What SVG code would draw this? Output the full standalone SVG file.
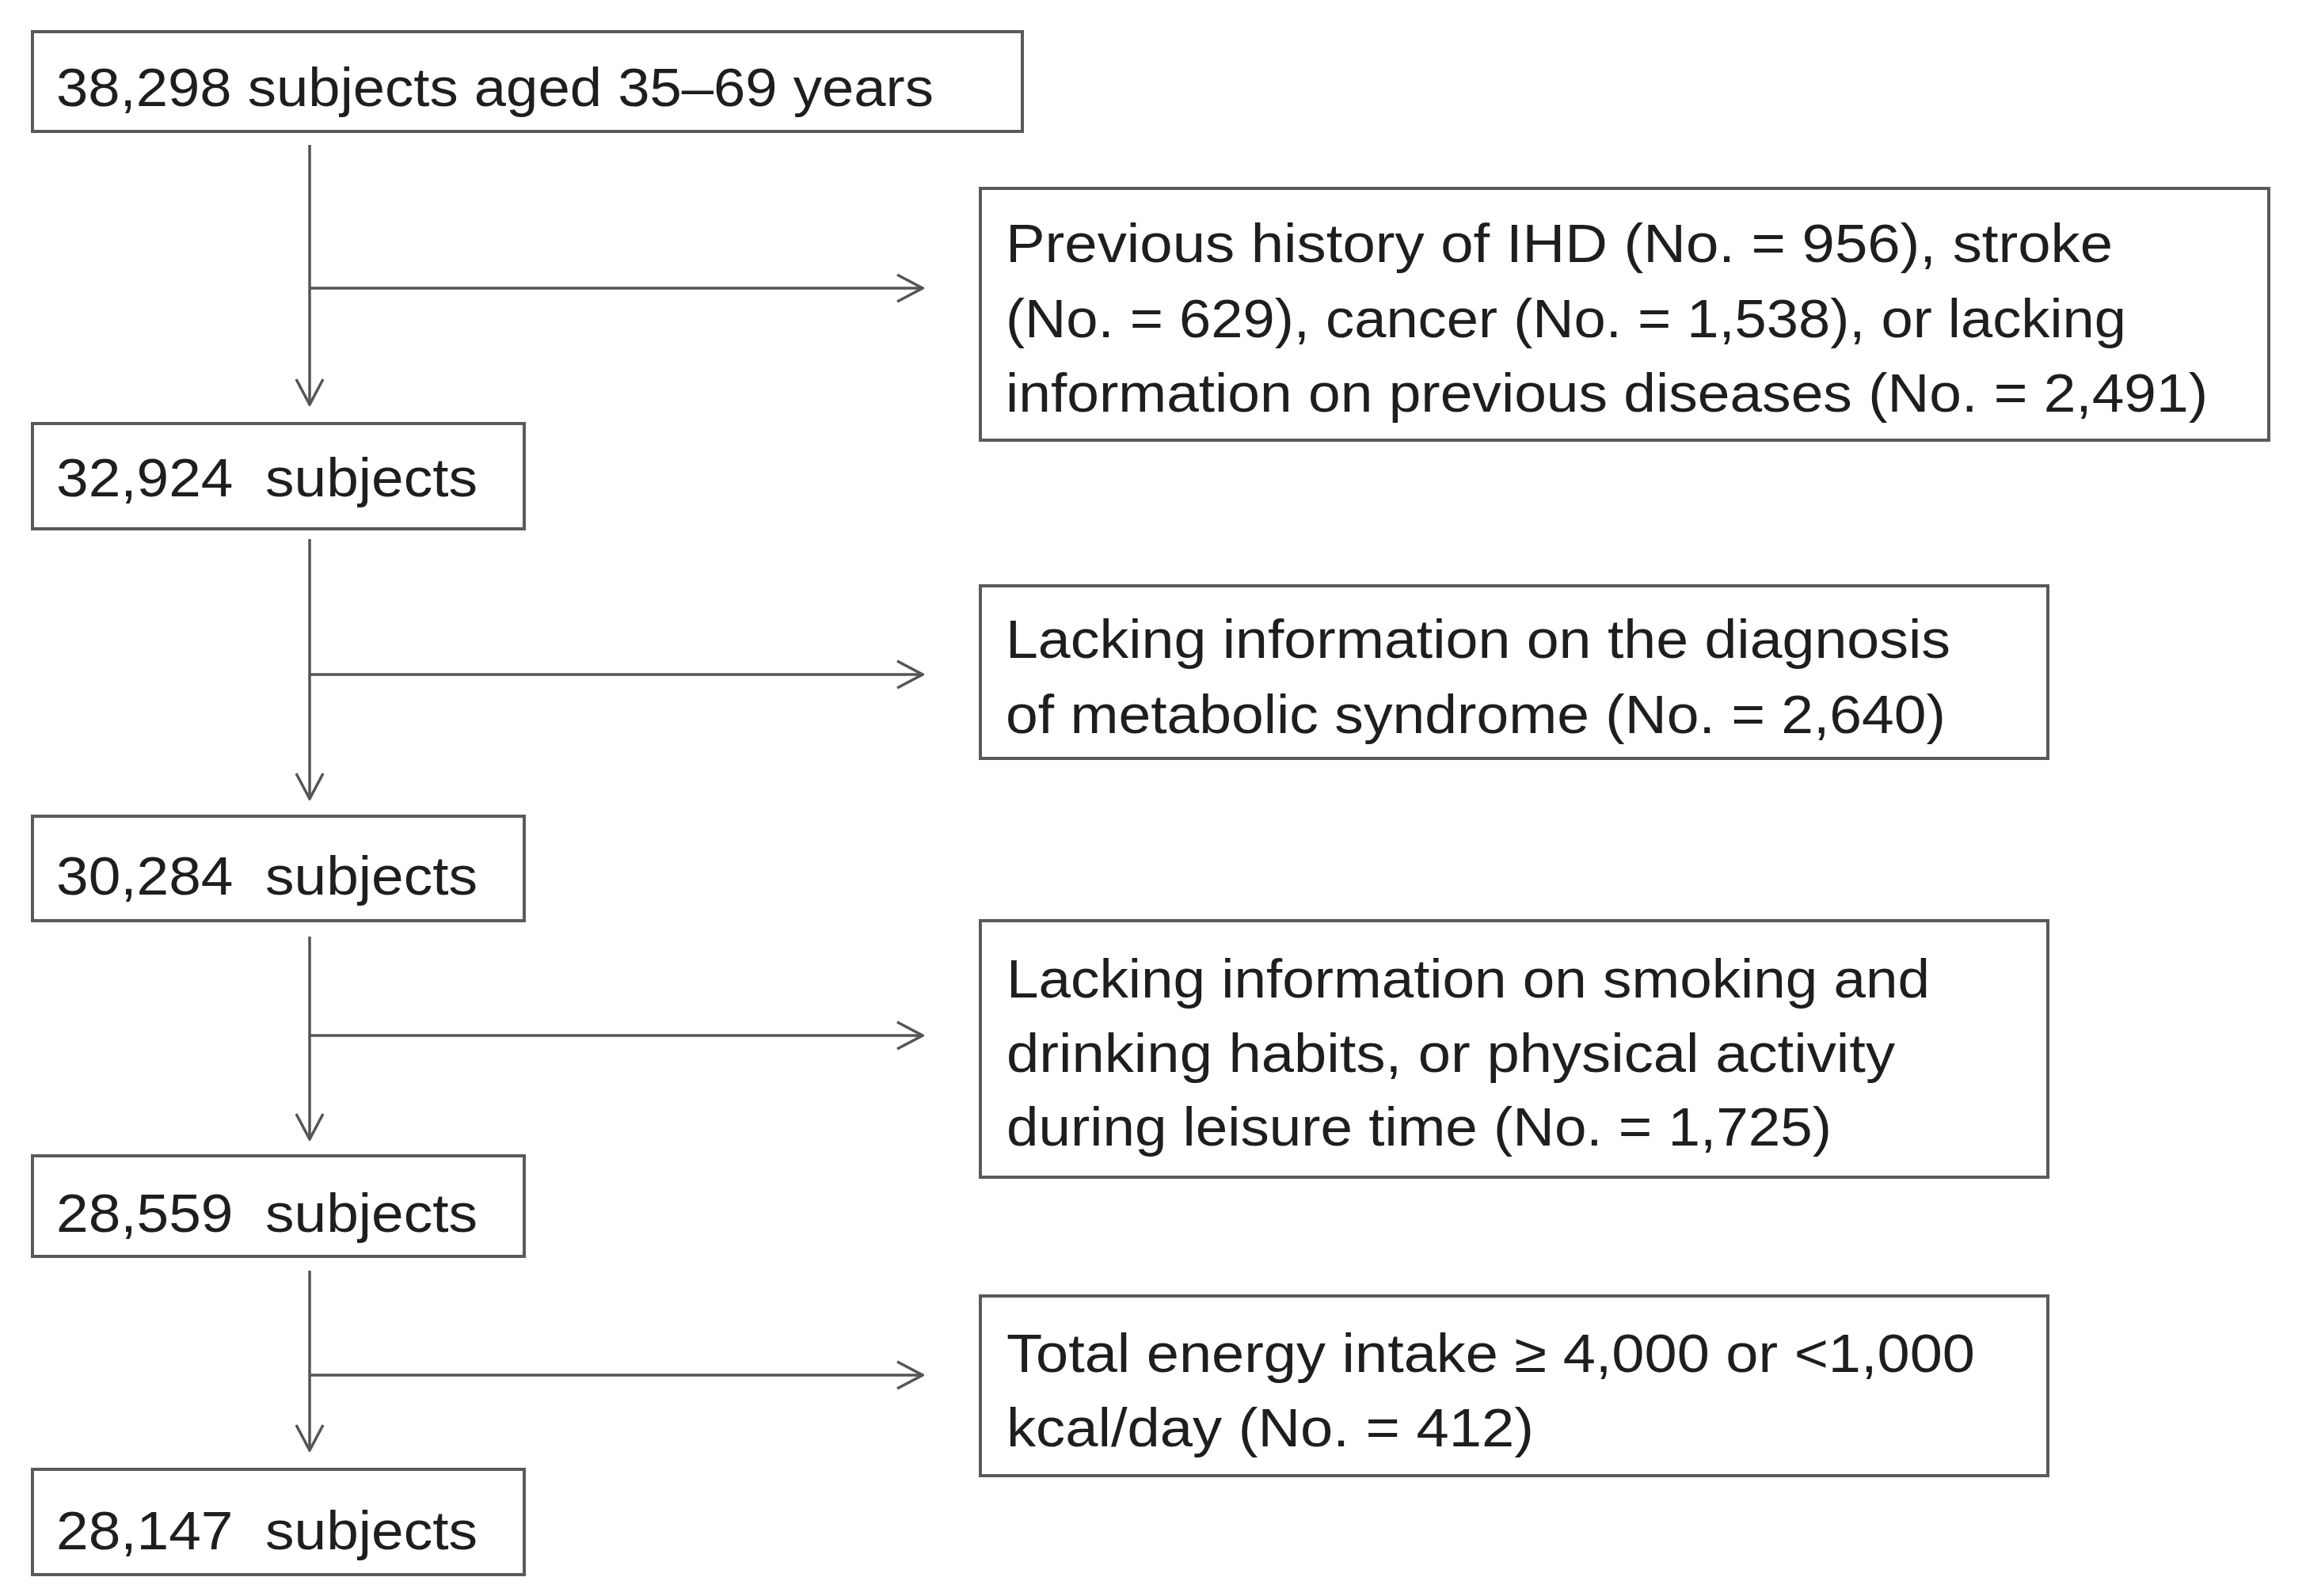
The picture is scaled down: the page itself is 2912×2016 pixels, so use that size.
<svg xmlns="http://www.w3.org/2000/svg" width="2912" height="2016" viewBox="0 0 2912 2016">
<style>
.box{fill:#fff;stroke:#5a5a5a;stroke-width:4}
.t{font-family:"Liberation Sans",Arial,sans-serif;font-size:69px;fill:#1e1e1e}
.ln{stroke:#555;stroke-width:3.5;fill:none}
</style>
<defs>
<marker id="ah" viewBox="0 0 40 40" refX="38" refY="20" markerWidth="40" markerHeight="40" markerUnits="userSpaceOnUse" orient="auto">
<path d="M6,3 L38,20 L6,37" fill="none" stroke="#555" stroke-width="3.5"/>
</marker>
</defs>
<rect width="2912" height="2016" fill="#fff"/>
<g id="connectors">
<line class="ln" x1="391" y1="183" x2="391" y2="511" marker-end="url(#ah)"/>
<line class="ln" x1="391" y1="364" x2="1165" y2="364" marker-end="url(#ah)"/>
<line class="ln" x1="391" y1="681" x2="391" y2="1009" marker-end="url(#ah)"/>
<line class="ln" x1="391" y1="852" x2="1165" y2="852" marker-end="url(#ah)"/>
<line class="ln" x1="391" y1="1183" x2="391" y2="1439" marker-end="url(#ah)"/>
<line class="ln" x1="391" y1="1308" x2="1165" y2="1308" marker-end="url(#ah)"/>
<line class="ln" x1="391" y1="1605" x2="391" y2="1832" marker-end="url(#ah)"/>
<line class="ln" x1="391" y1="1737" x2="1165" y2="1737" marker-end="url(#ah)"/>
</g>
<g id="n1">
<rect class="box" x="41" y="40" width="1250" height="126"/>
<text class="t" x="71" y="134" textLength="1108" lengthAdjust="spacingAndGlyphs">38,298 subjects aged 35–69 years</text>
</g>
<g id="n2">
<rect class="box" x="41" y="535" width="621" height="133"/>
<text class="t" x="71" y="627" textLength="532" lengthAdjust="spacingAndGlyphs" xml:space="preserve">32,924  subjects</text>
</g>
<g id="n3">
<rect class="box" x="41" y="1031" width="621" height="132"/>
<text class="t" x="71" y="1130" textLength="532" lengthAdjust="spacingAndGlyphs" xml:space="preserve">30,284  subjects</text>
</g>
<g id="n4">
<rect class="box" x="41" y="1460" width="621" height="127"/>
<text class="t" x="71" y="1556" textLength="532" lengthAdjust="spacingAndGlyphs" xml:space="preserve">28,559  subjects</text>
</g>
<g id="n5">
<rect class="box" x="41" y="1856" width="621" height="133"/>
<text class="t" x="71" y="1957" textLength="532" lengthAdjust="spacingAndGlyphs" xml:space="preserve">28,147  subjects</text>
</g>
<g id="e1">
<rect class="box" x="1238" y="238" width="1627" height="318"/>
<text class="t" x="1270" y="331" textLength="1398" lengthAdjust="spacingAndGlyphs">Previous history of IHD (No. = 956), stroke</text>
<text class="t" x="1270" y="426" textLength="1415" lengthAdjust="spacingAndGlyphs">(No. = 629), cancer (No. = 1,538), or lacking</text>
<text class="t" x="1270" y="520" textLength="1518" lengthAdjust="spacingAndGlyphs">information on previous diseases (No. = 2,491)</text>
</g>
<g id="e2">
<rect class="box" x="1238" y="740" width="1348" height="218"/>
<text class="t" x="1270" y="831" textLength="1193" lengthAdjust="spacingAndGlyphs">Lacking information on the diagnosis</text>
<text class="t" x="1270" y="926" textLength="1187" lengthAdjust="spacingAndGlyphs">of metabolic syndrome (No. = 2,640)</text>
</g>
<g id="e3">
<rect class="box" x="1238" y="1163" width="1348" height="324"/>
<text class="t" x="1271" y="1260" textLength="1166" lengthAdjust="spacingAndGlyphs">Lacking information on smoking and</text>
<text class="t" x="1271" y="1354" textLength="1122" lengthAdjust="spacingAndGlyphs">drinking habits, or physical activity</text>
<text class="t" x="1271" y="1447" textLength="1042" lengthAdjust="spacingAndGlyphs">during leisure time (No. = 1,725)</text>
</g>
<g id="e4">
<rect class="box" x="1238" y="1637" width="1348" height="227"/>
<text class="t" x="1271" y="1733" textLength="1223" lengthAdjust="spacingAndGlyphs">Total energy intake ≥ 4,000 or &lt;1,000</text>
<text class="t" x="1271" y="1827" textLength="666" lengthAdjust="spacingAndGlyphs">kcal/day (No. = 412)</text>
</g>
</svg>
